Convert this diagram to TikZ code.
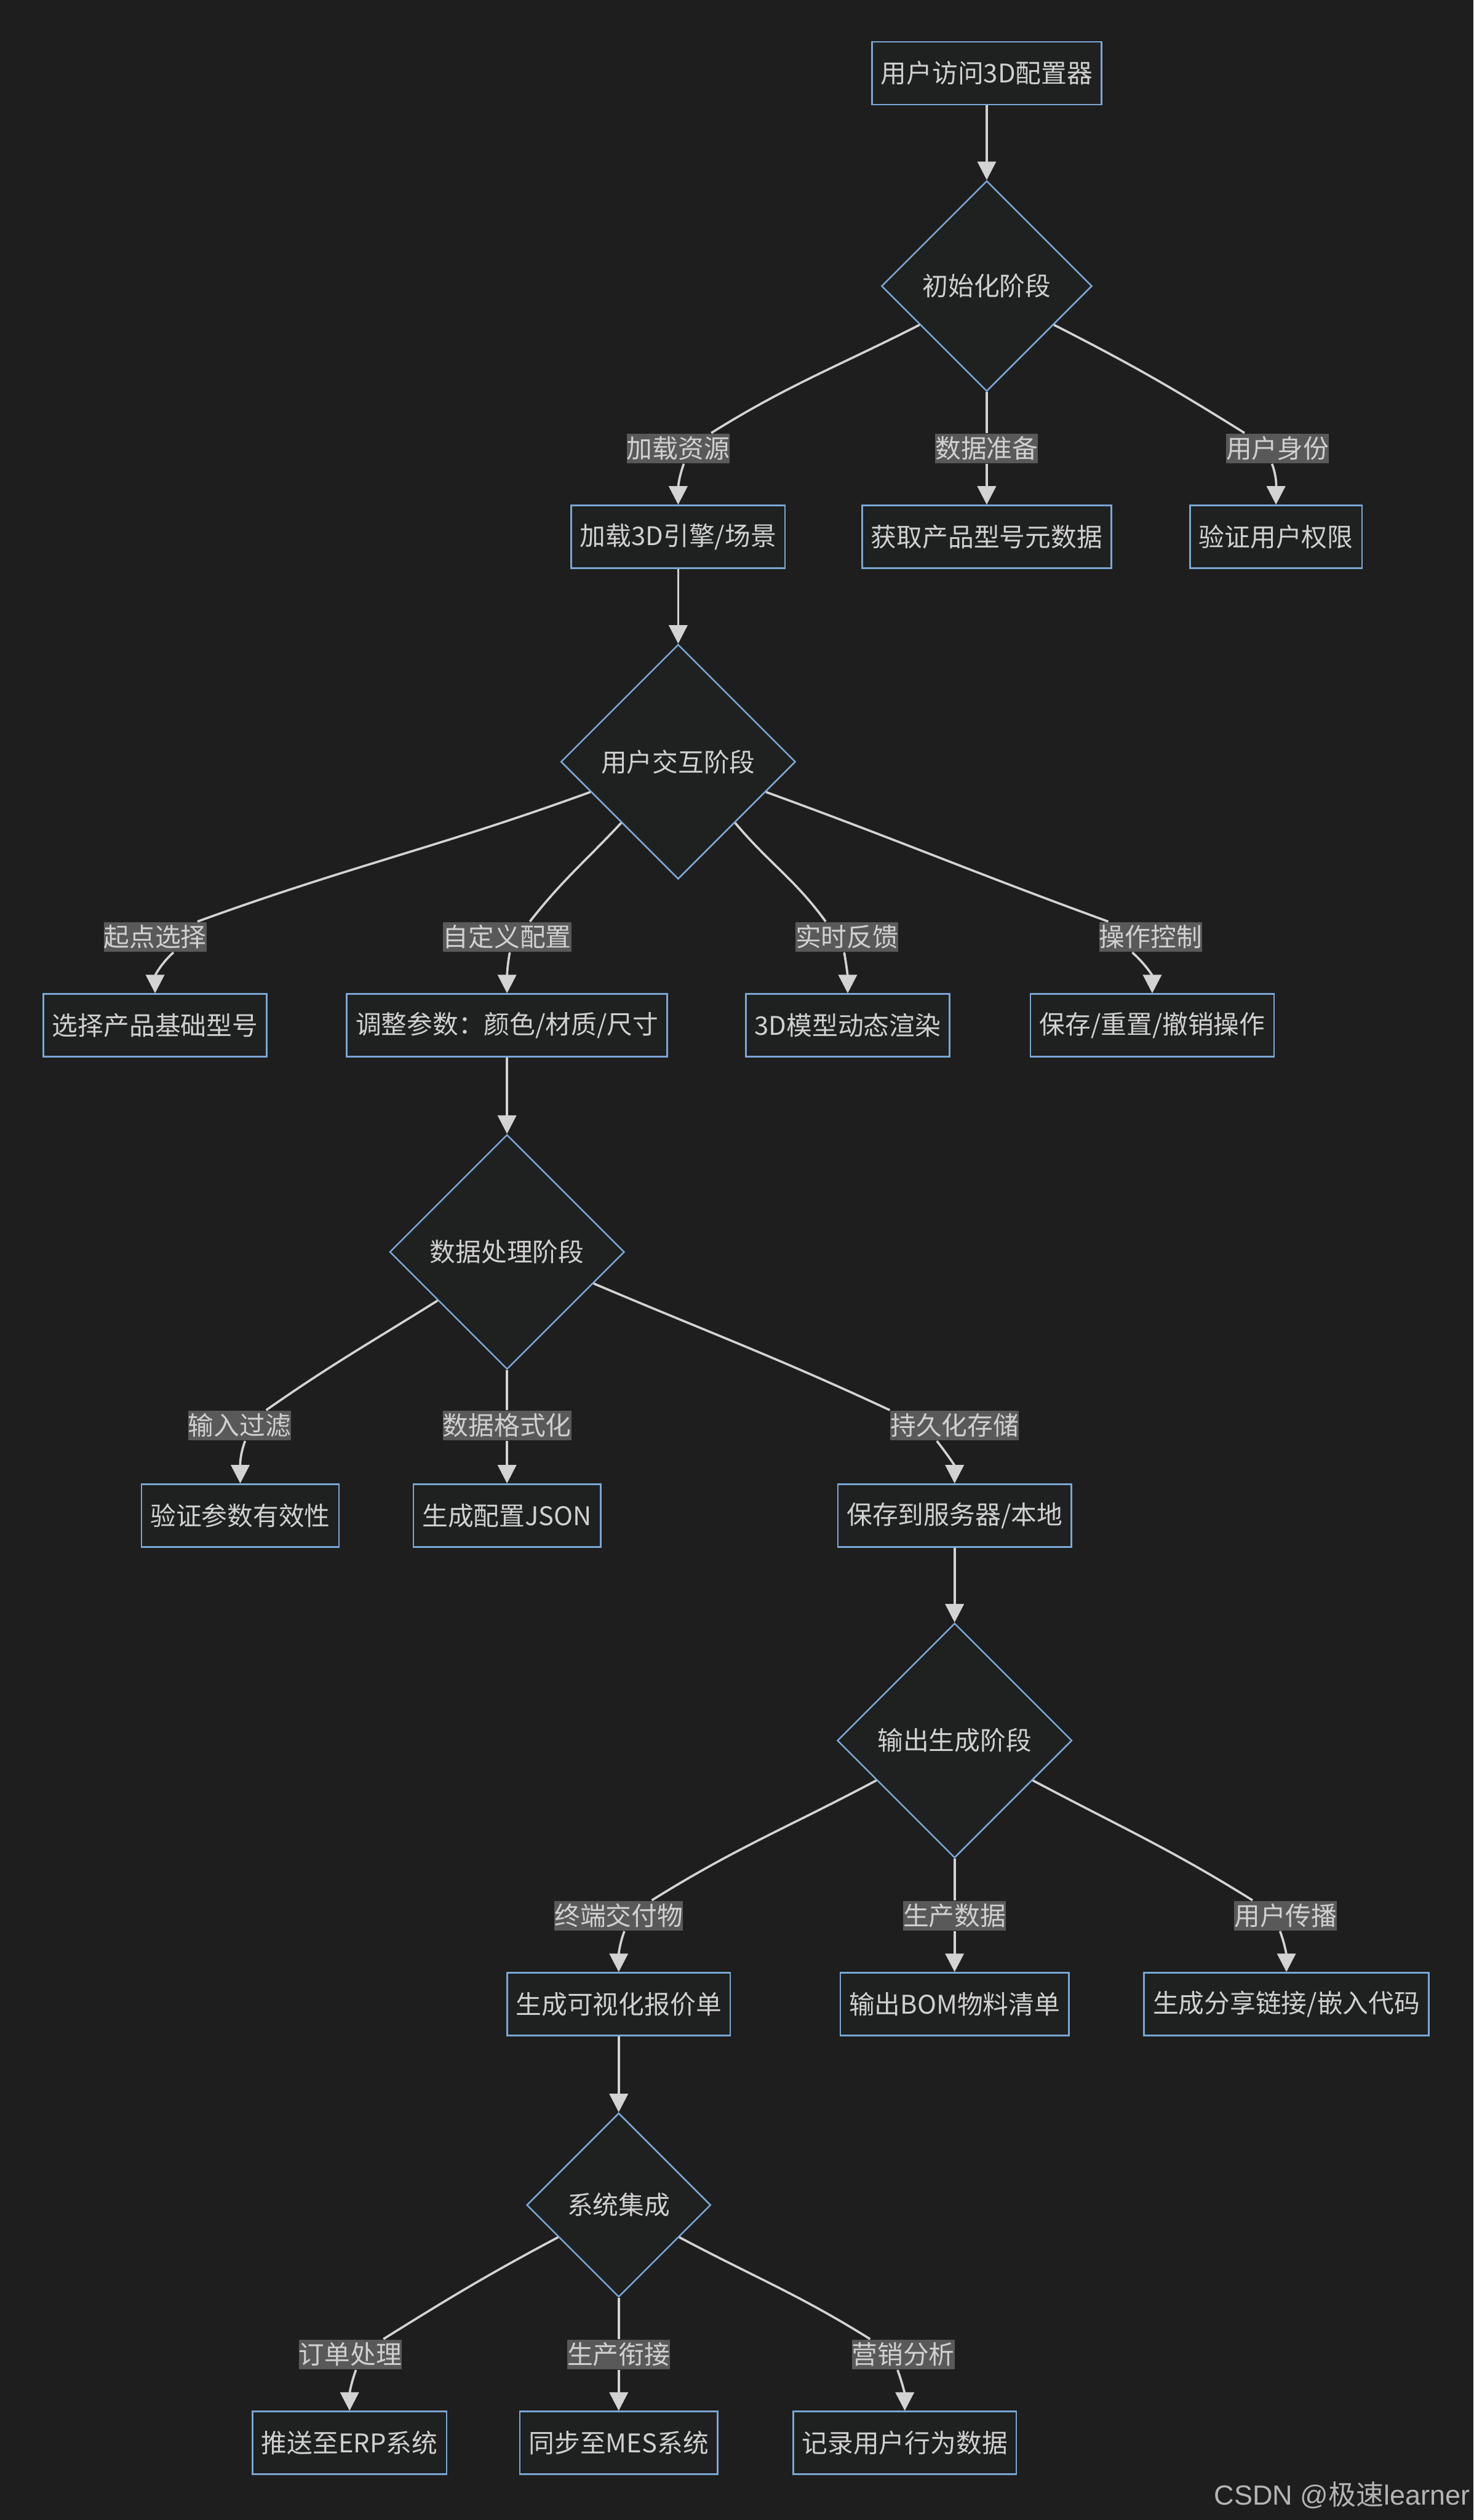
\documentclass[tikz,border=0pt]{standalone}
\usepackage{fontspec}
\setmainfont{Noto Sans CJK SC}
\newfontfamily\wmfont{Liberation Sans}
\usetikzlibrary{arrows.meta,shapes.geometric}
\definecolor{hinter}{HTML}{1E1E1E}
\definecolor{fuell}{HTML}{1F2020}
\definecolor{rand}{HTML}{7AA7D6}
\definecolor{schrift}{HTML}{D0D0D0}
\definecolor{linie}{HTML}{D3D3D3}
\definecolor{etik}{HTML}{595959}
\definecolor{wgrau}{HTML}{B4B4B4}
\tikzset{
  kasten/.style={draw=rand,fill=fuell,line width=0.55pt,text=schrift,minimum height=0.78cm,inner xsep=0.11cm,inner ysep=0pt,font=\fontsize{9.1}{11}\selectfont},
  raute/.style={diamond,aspect=1,draw=rand,fill=fuell,line width=0.55pt,text=schrift,inner sep=0pt,minimum size=2.92cm,font=\fontsize{9.1}{11}\selectfont},
  etikett/.style={fill=etik,text=schrift,inner sep=0pt,minimum height=0.37cm,font=\fontsize{9.1}{11}\selectfont},
  kante/.style={linie,line width=0.8pt},
  pfeil/.style={-{Triangle[length=2.3mm,width=2.3mm]},linie,line width=0.8pt},
}

\begin{document}
\begin{tikzpicture}
  \fill[hinter] (0,0) rectangle (18.34,-31.36);
  \node[kasten] (start) at (12.28,-0.91) {用户访问3D配置器};
  \node[raute,minimum size=2.62cm] (init) at (12.28,-3.56) {初始化阶段};
  \node[etikett] (lres) at (8.44,-5.58) {加载资源};
  \node[etikett] (ldat) at (12.28,-5.58) {数据准备};
  \node[etikett] (lusr) at (15.90,-5.58) {用户身份};
  \node[kasten] (engine) at (8.44,-6.68) {加载3D引擎/场景};
  \node[kasten] (meta) at (12.28,-6.68) {获取产品型号元数据};
  \node[kasten] (auth) at (15.88,-6.68) {验证用户权限};
  \node[raute] (inter) at (8.44,-9.48) {用户交互阶段};
  \node[etikett] (lbase) at (1.93,-11.66) {起点选择};
  \node[etikett] (lcustom) at (6.31,-11.66) {自定义配置};
  \node[etikett] (lfeed) at (10.54,-11.66) {实时反馈};
  \node[etikett] (lctrl) at (14.32,-11.66) {操作控制};
  \node[kasten] (base) at (1.93,-12.76) {选择产品基础型号};
  \node[kasten] (param) at (6.31,-12.76) {调整参数：颜色/材质/尺寸};
  \node[kasten] (render) at (10.55,-12.76) {3D模型动态渲染};
  \node[kasten] (ops) at (14.34,-12.76) {保存/重置/撤销操作};
  \node[raute] (proc) at (6.31,-15.58) {数据处理阶段};
  \node[etikett] (lfilter) at (2.98,-17.74) {输入过滤};
  \node[etikett] (lfmt) at (6.31,-17.74) {数据格式化};
  \node[etikett] (lstore) at (11.88,-17.74) {持久化存储};
  \node[kasten] (valid) at (2.99,-18.86) {验证参数有效性};
  \node[kasten] (json) at (6.31,-18.86) {生成配置JSON};
  \node[kasten] (save) at (11.88,-18.86) {保存到服务器/本地};
  \node[raute] (outp) at (11.88,-21.66) {输出生成阶段};
  \node[etikett] (lterm) at (7.70,-23.84) {终端交付物};
  \node[etikett] (lprod) at (11.88,-23.84) {生产数据};
  \node[etikett] (lshare) at (16.00,-23.84) {用户传播};
  \node[kasten] (quote) at (7.70,-24.94) {生成可视化报价单};
  \node[kasten] (bom) at (11.88,-24.94) {输出BOM物料清单};
  \node[kasten] (link) at (16.01,-24.94) {生成分享链接/嵌入代码};
  \node[raute,minimum size=2.29cm] (sysi) at (7.70,-27.44) {系统集成};
  \node[etikett] (lorder) at (4.36,-29.30) {订单处理};
  \node[etikett] (lmes) at (7.70,-29.30) {生产衔接};
  \node[etikett] (lmkt) at (11.24,-29.30) {营销分析};
  \node[kasten] (erp) at (4.35,-30.40) {推送至ERP系统};
  \node[kasten] (mes) at (7.70,-30.40) {同步至MES系统};
  \node[kasten] (logb) at (11.26,-30.40) {记录用户行为数据};
  \node[anchor=base east,inner sep=0pt,text=wgrau,font=\wmfont\fontsize{9.8}{12}\selectfont] (wm) at (18.30,-31.17) {CSDN @{\rmfamily 极速}learner};

  \draw[pfeil] (start) -- (init);
  \draw[kante] (init.210) to[out=207,in=32] (lres.25);
  \draw[pfeil] (lres.-70) to[out=250,in=90] (engine.north);
  \draw[kante] (init) -- (ldat);
  \draw[pfeil] (ldat) -- (meta);
  \draw[kante] (init.330) to[out=333,in=148] (lusr.155);
  \draw[pfeil] (lusr.-110) to[out=290,in=90] (auth.north);

  \draw[pfeil] (engine) -- (inter);
  \draw[kante] (inter.199) to[out=200,in=20] (lbase.20);
  \draw[pfeil] (lbase.-40) to[out=222,in=90] (base.north);
  \draw[kante] (inter.227) to[out=227,in=52] (lcustom.34);
  \draw[pfeil] (lcustom.-80) to[out=260,in=90] (param.north);
  \draw[kante] (inter.313) to[out=310,in=126] (lfeed.144);
  \draw[pfeil] (lfeed.-100) to[out=280,in=90] (render.north);
  \draw[kante] (inter.341) to[out=340,in=160] (lctrl.160);
  \draw[pfeil] (lctrl.-140) to[out=318,in=90] (ops.north);

  \draw[pfeil] (param) -- (proc);
  \draw[kante] (proc.215) to[out=212,in=35] (lfilter.30);
  \draw[pfeil] (lfilter.-70) to[out=250,in=90] (valid.north);
  \draw[kante] (proc) -- (lfmt);
  \draw[pfeil] (lfmt) -- (json);
  \draw[kante] (proc.340) to[out=337,in=155] (lstore.north west);
  \draw[pfeil] (lstore.221) to[out=308,in=90] (save.north);

  \draw[pfeil] (save) -- (outp);
  \draw[kante] (outp.207) to[out=208,in=32] (lterm.25);
  \draw[pfeil] (lterm.-70) to[out=250,in=90] (quote.north);
  \draw[kante] (outp) -- (lprod);
  \draw[pfeil] (lprod) -- (bom);
  \draw[kante] (outp.333) to[out=332,in=148] (lshare.155);
  \draw[pfeil] (lshare.-110) to[out=290,in=90] (link.north);

  \draw[pfeil] (quote) -- (sysi);
  \draw[kante] (sysi.208) to[out=208,in=32] (lorder.25);
  \draw[pfeil] (lorder.-70) to[out=250,in=90] (erp.north);
  \draw[kante] (sysi) -- (lmes);
  \draw[pfeil] (lmes) -- (mes);
  \draw[kante] (sysi.332) to[out=332,in=148] (lmkt.155);
  \draw[pfeil] (lmkt.-110) to[out=290,in=90] (logb.north);
\end{tikzpicture}
\end{document}
